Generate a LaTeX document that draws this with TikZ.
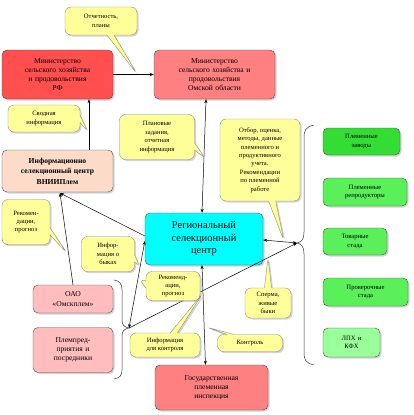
\documentclass[tikz,border=0pt]{standalone}
\usepackage{fontspec}
\setmainfont{Liberation Serif}
\usetikzlibrary{shapes.callouts,shadows,arrows.meta}
\definecolor{rfred}{HTML}{FF4F4F}
\definecolor{omred}{HTML}{FF8080}
\definecolor{peach}{HTML}{FCDCC8}
\definecolor{pinkbox}{HTML}{FFBDBD}
\definecolor{cyanbox}{HTML}{00FFFF}
\definecolor{callyel}{HTML}{FFFF99}
\definecolor{g1}{HTML}{33DD33}
\definecolor{g2}{HTML}{5AF05A}
\definecolor{g3}{HTML}{99FF99}
\begin{document}
\begin{tikzpicture}[x=1pt,y=-1pt,
  shad/.style={drop shadow={opacity=0.35,shadow xshift=1.5pt,shadow yshift=-1.5pt}},
  box/.style={draw=black!70, rounded corners=5pt, align=center, inner sep=1pt, shad,
    font=\fontsize{7.6}{9.2}\selectfont},
  call/.style={rectangle callout, draw=black!45, fill=callyel, rounded corners=6pt,
    align=center, inner sep=1pt, shad, font=\fontsize{6.6}{8.4}\selectfont},
  arr/.style={-{Stealth[length=4pt,width=3pt]}},
  darr/.style={{Stealth[length=4pt,width=3pt]}-{Stealth[length=4pt,width=3pt]}},
  ln/.style={draw=black, line width=0.5pt}]
\useasboundingbox (0,0) rectangle (414,415);

% main boxes
\node[box, fill=rfred, minimum width=111, minimum height=49, text width=107] (rf) at (57.5,74.5)
  {Министерство\\сельского хозяйства\\и продовольствия\\РФ};
\node[box, fill=omred, minimum width=121, minimum height=49, text width=117] (omsk) at (214.5,74.5)
  {Министерство\\сельского хозяйства и\\продовольствия\\Омской области};
\node[box, fill=peach, minimum width=111, minimum height=42, text width=107, font=\fontsize{7.6}{10.5}\selectfont\bfseries] (info) at (57.5,171)
  {Информационно\\селекционный центр\\ВНИИПлем};
\node[box, fill=cyanbox, minimum width=118, minimum height=52, text width=112, font=\fontsize{10.5}{12.5}\selectfont] (rc) at (204,239)
  {Региональный\\селекционный\\центр};
\node[box, fill=pinkbox, minimum width=80, minimum height=28, text width=76] (oao) at (73,299)
  {ОАО\\«Омскплем»};
\node[box, fill=pinkbox, minimum width=80, minimum height=45, text width=76] (plem) at (73,350)
  {Племпред-\\приятия и\\посредники};
\node[box, fill=omred, minimum width=113, minimum height=45, text width=109] (gpi) at (211.5,387.5)
  {Государственная\\племенная\\инспекция};

% green boxes
\node[box, fill=g1, minimum width=77, minimum height=27, text width=74, font=\fontsize{6.6}{8.6}\selectfont] (z1) at (361.5,141.5) {Племенные\\заводы};
\node[box, fill=g2, minimum width=84, minimum height=28, text width=82, font=\fontsize{6.6}{8.6}\selectfont] (z2) at (365,192) {Племенные\\репродукторы};
\node[box, fill=g2, minimum width=64, minimum height=27, text width=62, font=\fontsize{6.6}{8.6}\selectfont] (z3) at (355,241.5) {Товарные\\стада};
\node[box, fill=g2, minimum width=85, minimum height=28, text width=82, font=\fontsize{6.6}{8.6}\selectfont] (z4) at (365.5,292) {Проверочные\\стада};
\node[box, fill=g3, minimum width=57, minimum height=29, text width=54, font=\fontsize{6.6}{8.6}\selectfont] (z5) at (351.5,342.5) {ЛПХ и\\КФХ};

% braces
\coordinate (rtip) at (297,243);
\coordinate (ltip) at (129,328);
\draw[black!80, line width=0.5pt] (314,125) .. controls (305,127) and (304,131) .. (304,138)
  -- (304,232) .. controls (304,239) and (302,242) .. (rtip)
  .. controls (302,244) and (304,247) .. (304,254) -- (304,352)
  .. controls (304,359) and (305,363) .. (314,365);
\draw[black!80, line width=0.5pt] (114,280) .. controls (120,281) and (122,284) .. (122,290)
  -- (122,320) .. controls (122,325) and (124,327) .. (ltip)
  .. controls (124,329) and (122,331) .. (122,336) -- (122,370)
  .. controls (122,375) and (120,378) .. (114,379);

% connectors
\draw[ln, arr] (rf.east) -- (omsk.west);
\draw[ln, arr] ([xshift=31.5pt]info.north) -- ([xshift=31.5pt]rf.south);
\draw[ln, darr] ([xshift=-8.5pt]omsk.south) -- ([xshift=-2pt]rc.north);
\coordinate (infob) at (60,193);
\draw[ln, arr] ([yshift=3pt]rc.west) -- (infob);
\draw[ln, arr] (oao.north) -- (infob);
\draw[ln, darr] ([yshift=-2pt]rc.west) -- (ltip);
\draw[ln, arr] (ltip) -- (rtip);
\draw[ln, darr] ([yshift=-1pt]rc.east) -- (rtip);
\draw[ln, darr] ([xshift=-2pt]rc.south) -- ([xshift=-6pt]gpi.north);

% callouts
\node[call, minimum width=72, minimum height=28, callout absolute pointer={(137,74)}] (c1) at (101,21)
  {Отчетность,\\планы};
\node[call, minimum width=72, minimum height=27, callout absolute pointer={(88,132)}] (c2) at (44,118.5)
  {Сводная\\информация};
\node[call, minimum width=75, minimum height=45, callout absolute pointer={(205,158)}] (c3) at (157,137)
  {Плановые\\задания,\\отчетная\\информация};
\node[call, minimum width=80, minimum height=82, callout absolute pointer={(284,241)}] (c4) at (260,160)
  {Отбор, оценка,\\методы, данные\\племенного и\\продуктивного\\учета.\\Рекомендации\\по племенной\\работе};
\node[call, minimum width=48, minimum height=45, callout absolute pointer={(67,253)}] (c5) at (26,222)
  {Рекомен-\\дации,\\прогноз};
\node[call, minimum width=53, minimum height=35, callout absolute pointer={(140,267)}] (c6) at (108,254)
  {Инфор-\\мация о\\быках};
\node[call, minimum width=54, minimum height=29, callout absolute pointer={(139,279)}] (c7) at (173,286)
  {Рекоменд-\\ации,\\прогноз};
\node[call, minimum width=70, minimum height=24, callout absolute pointer={(203,293)}] (c8) at (165,345)
  {Информация\\для контроля};
\node[call, minimum width=65, minimum height=17, callout absolute pointer={(206,327)}] (c9) at (250,343)
  {Контроль};
\node[call, minimum width=46, minimum height=30, callout absolute pointer={(268,257)}] (c10) at (268,303)
  {Сперма,\\живые\\быки};
\end{tikzpicture}
\end{document}
